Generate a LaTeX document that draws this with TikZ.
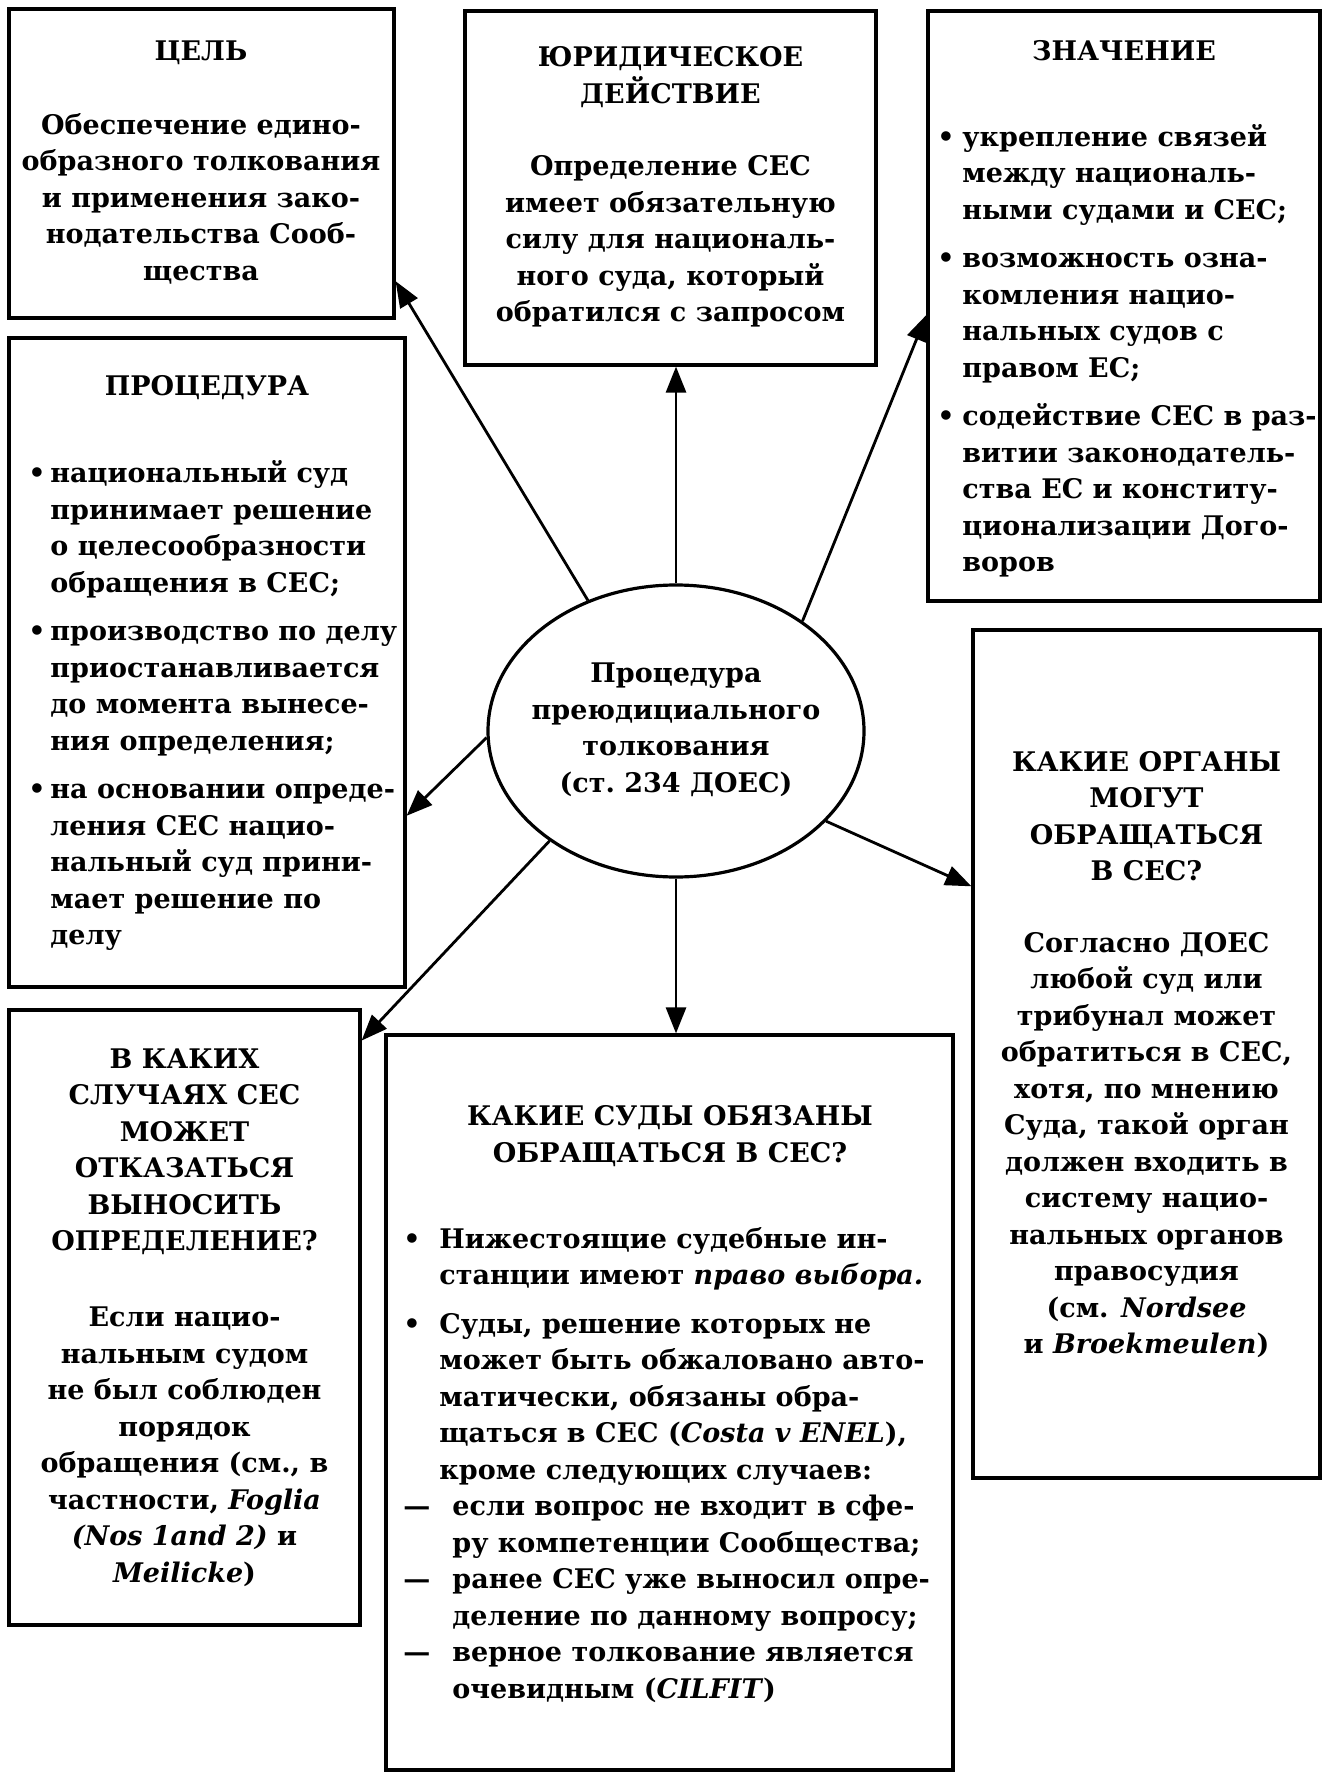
\documentclass[tikz,border=0pt]{standalone}
\usepackage{fontspec}
\setmainfont{DejaVu Serif}
\usetikzlibrary{arrows.meta,shapes.geometric,calc}
\newcommand\fsz{\fontsize{13.5}{18.25}\selectfont\bfseries}
\newcommand\mkb[1]{\makebox[#1][l]{•}}
\newcommand\mkd[1]{\makebox[#1][l]{—}}
\newcommand\ind[1]{\makebox[#1]{}}
\tikzset{
 box/.style={draw, line width=1.6pt, inner sep=0pt},
 txt/.style={inner sep=0pt, font=\fsz, align=center},
 ltxt/.style={inner sep=0pt, font=\fsz, align=left, anchor=west},
 arr/.style={line width=1.4pt, -{Triangle[length=13pt,width=10pt]}},
}
\begin{document}
\begin{tikzpicture}[x=0.5pt,y=-0.5pt]
\useasboundingbox[fill=white] (0,0) rectangle (1330,1780);
% boxes
\node[box, minimum width=192.5pt, minimum height=154.5pt] (cel) at (201.5,163.5) {};
\node[box, minimum width=198pt, minimum height=324.5pt] (proc) at (207,662.5) {};
\node[box, minimum width=205.5pt, minimum height=177pt] (jur) at (670.5,188) {};
\node[box, minimum width=196pt, minimum height=295pt] (znach) at (1124,306) {};
\node[box, minimum width=173.5pt, minimum height=424pt] (org) at (1146.5,1054) {};
\node[box, minimum width=175.5pt, minimum height=307.5pt] (sluch) at (184.5,1317.5) {};
\node[box, minimum width=283.5pt, minimum height=367.5pt] (sud) at (669.5,1402.5) {};
\node[draw, ellipse, line width=1.6pt, minimum width=188pt, minimum height=146pt, inner sep=0pt] (ell) at (676,731) {};
% texts
\node[txt] (celt) at (201,53) {ЦЕЛЬ};
\node[txt] (celb) at (201,198.5) {Обеспечение едино-\\образного толкования\\и применения зако-\\нодательства Сооб-\\щества};
\node[txt] (jurt) at (670.5,77) {ЮРИДИЧЕСКОЕ\\ДЕЙСТВИЕ};
\node[txt] (jurb) at (670.5,241.5) {Определение СЕС\\имеет обязательную\\силу для националь-\\ного суда, который\\обратился с запросом};
\node[txt] (znacht) at (1124,51) {ЗНАЧЕНИЕ};
\node[ltxt] (znachb) at (937,351) {%
\mkb{12.5pt}укрепление связей\\
\ind{12.5pt}между националь-\\
\ind{12.5pt}ными судами и СЕС;\\[6pt]
\mkb{12.5pt}возможность озна-\\
\ind{12.5pt}комления нацио-\\
\ind{12.5pt}нальных судов с\\
\ind{12.5pt}правом ЕС;\\[6pt]
\mkb{12.5pt}содействие СЕС в раз-\\
\ind{12.5pt}витии законодатель-\\
\ind{12.5pt}ства ЕС и конститу-\\
\ind{12.5pt}ционализации Дого-\\
\ind{12.5pt}воров};
\node[txt] (proct) at (207,388) {ПРОЦЕДУРА};
\node[ltxt] (procb) at (28,705.5) {%
\mkb{11pt}национальный суд\\
\ind{11pt}принимает решение\\
\ind{11pt}о целесообразности\\
\ind{11pt}обращения в СЕС;\\[6pt]
\mkb{11pt}производство по делу\\
\ind{11pt}приостанавливается\\
\ind{11pt}до момента вынесе-\\
\ind{11pt}ния определения;\\[6pt]
\mkb{11pt}на основании опреде-\\
\ind{11pt}ления СЕС нацио-\\
\ind{11pt}нальный суд прини-\\
\ind{11pt}мает решение по\\
\ind{11pt}делу};
\node[txt] (ellt) at (676,730) {Процедура\\преюдициального\\толкования\\(ст.~234 ДОЕС)};
\node[txt] (orgt) at (1146.5,816) {КАКИЕ ОРГАНЫ\\МОГУТ\\ОБРАЩАТЬСЯ\\В СЕС?};
\node[txt] (orgb) at (1146.5,1145) {Согласно ДОЕС\\любой суд или\\трибунал может\\обратиться в СЕС,\\хотя, по мнению\\Суда, такой орган\\должен входить в\\систему нацио-\\нальных органов\\правосудия\\(см. \textit{Nordsee}\\и \textit{Broekmeulen})};
\node[txt] (slucht) at (184.5,1152) {В КАКИХ\\СЛУЧАЯХ СЕС\\МОЖЕТ\\ОТКАЗАТЬСЯ\\ВЫНОСИТЬ\\ОПРЕДЕЛЕНИЕ?};
\node[txt] (sluchb) at (184.5,1446.5) {Если нацио-\\нальным судом\\не был соблюден\\порядок\\обращения (см., в\\частности, \textit{Foglia}\\\textit{(Nos 1and 2)} и\\\textit{Meilicke})};
\node[txt] (sudt) at (670,1136) {КАКИЕ СУДЫ ОБЯЗАНЫ\\ОБРАЩАТЬСЯ В СЕС?};
\node[ltxt] (sudb) at (403,1465) {%
\mkb{18pt}Нижестоящие судебные ин-\\
\ind{18pt}станции имеют \textit{право выбора.}\\[6pt]
\mkb{18pt}Суды, решение которых не\\
\ind{18pt}может быть обжаловано авто-\\
\ind{18pt}матически, обязаны обра-\\
\ind{18pt}щаться в СЕС (\textit{Costa v ENEL}),\\
\ind{18pt}кроме следующих случаев:\\
\mkd{24.5pt}если вопрос не входит в сфе-\\
\ind{24.5pt}ру компетенции Сообщества;\\
\mkd{24.5pt}ранее СЕС уже выносил опре-\\
\ind{24.5pt}деление по данному вопросу;\\
\mkd{24.5pt}верное толкование является\\
\ind{24.5pt}очевидным (\textit{CILFIT})};
% arrows
\draw[arr] (ell.124) -- ($(cel.north east)!0.877!(cel.south east)$);
\draw[arr] (ell.north) -- (ell.north |- jur.south);
\draw[arr] (ell.41) -- ($(znach.north west)!0.515!(znach.south west)$);
\draw[arr] (ell.182) -- ($(proc.north east)!0.735!(proc.south east)$);
\draw[arr] (ell.329) -- ($(org.north west)!0.303!(org.south west)$);
\draw[arr] (ell.south) -- (ell.south |- sud.north);
\draw[arr] (ell.221) -- ($(sluch.north east)!0.052!(sluch.south east)$);
\end{tikzpicture}
\end{document}
